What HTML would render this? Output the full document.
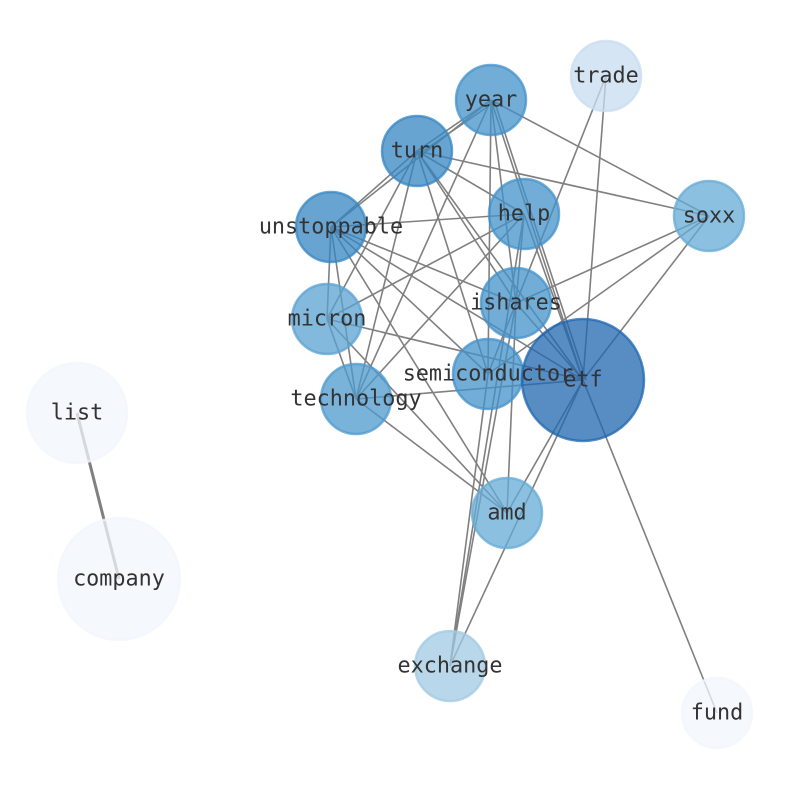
<!DOCTYPE html>
<html><head><meta charset="utf-8"><style>html,body{margin:0;padding:0;background:#fff}svg{display:block}</style></head>
<body>
<svg width="794" height="790" viewBox="0 0 794 790" xmlns="http://www.w3.org/2000/svg">
<g stroke="#808080" stroke-width="1.6" fill="none">
<line x1="77" y1="413" x2="119" y2="579" stroke-width="3"/>
<line x1="491" y1="100" x2="417" y2="151"/><line x1="491" y1="100" x2="417" y2="151" transform="translate(2,3)"/>
<line x1="491" y1="100" x2="331" y2="227"/>
<line x1="491" y1="100" x2="356" y2="399"/>
<line x1="491" y1="100" x2="488" y2="374"/>
<line x1="491" y1="100" x2="516" y2="303"/>
<line x1="491" y1="100" x2="583" y2="380"/>
<line x1="491" y1="100" x2="583" y2="380" transform="translate(3,0)"/>
<line x1="491" y1="100" x2="709" y2="216"/>
<line x1="417" y1="151" x2="331" y2="227"/>
<line x1="417" y1="151" x2="327" y2="319"/>
<line x1="417" y1="151" x2="356" y2="399"/>
<line x1="417" y1="151" x2="488" y2="374"/>
<line x1="417" y1="151" x2="516" y2="303"/>
<line x1="417" y1="151" x2="583" y2="380"/>
<line x1="417" y1="151" x2="524" y2="214"/>
<line x1="417" y1="151" x2="709" y2="216"/>
<line x1="331" y1="227" x2="524" y2="214"/>
<line x1="331" y1="227" x2="327" y2="319"/>
<line x1="331" y1="227" x2="356" y2="399"/>
<line x1="331" y1="227" x2="516" y2="303"/>
<line x1="331" y1="227" x2="583" y2="380"/>
<line x1="331" y1="227" x2="488" y2="374"/>
<line x1="331" y1="227" x2="507" y2="513"/>
<line x1="524" y1="214" x2="327" y2="319"/>
<line x1="524" y1="214" x2="356" y2="399"/>
<line x1="524" y1="214" x2="516" y2="303"/>
<line x1="524" y1="214" x2="450" y2="666"/>
<line x1="524" y1="214" x2="583" y2="380"/>
<line x1="606" y1="76" x2="516" y2="303"/>
<line x1="606" y1="76" x2="583" y2="380"/>
<line x1="709" y1="216" x2="516" y2="303"/>
<line x1="709" y1="216" x2="488" y2="374"/>
<line x1="709" y1="216" x2="583" y2="380"/>
<line x1="327" y1="319" x2="356" y2="399"/>
<line x1="327" y1="319" x2="583" y2="380"/>
<line x1="327" y1="319" x2="507" y2="513"/>
<line x1="356" y1="399" x2="583" y2="380"/>
<line x1="356" y1="399" x2="507" y2="513"/>
<line x1="516" y1="303" x2="488" y2="374"/>
<line x1="516" y1="303" x2="507" y2="513"/>
<line x1="516" y1="303" x2="450" y2="666"/>
<line x1="516" y1="303" x2="583" y2="380"/>
<line x1="488" y1="374" x2="450" y2="666"/>
<line x1="583" y1="380" x2="507" y2="513"/>
<line x1="583" y1="380" x2="450" y2="666"/>
<line x1="583" y1="380" x2="717" y2="713"/>
</g>
<g stroke-width="2.5" fill-opacity="0.75" stroke-opacity="0.75">
<circle cx="77" cy="413" r="50" fill="#f1f6fc" stroke="#f1f6fc"/>
<circle cx="119" cy="579" r="61" fill="#f1f6fc" stroke="#f1f6fc"/>
<circle cx="717" cy="713" r="35" fill="#f1f6fc" stroke="#f1f6fc"/>
<circle cx="606" cy="76" r="35" fill="#c8dcf0" stroke="#c8dcf0"/>
<circle cx="450" cy="666" r="35" fill="#a1c9e3" stroke="#a1c9e3"/>
<circle cx="709" cy="216" r="35" fill="#66abd6" stroke="#66abd6"/>
<circle cx="507" cy="513" r="35" fill="#66abd6" stroke="#66abd6"/>
<circle cx="327" cy="319" r="35" fill="#5aa2d2" stroke="#5aa2d2"/>
<circle cx="356" cy="399" r="35" fill="#4e9acd" stroke="#4e9acd"/>
<circle cx="491" cy="100" r="35" fill="#4391ca" stroke="#4391ca"/>
<circle cx="524" cy="214" r="35" fill="#4391ca" stroke="#4391ca"/>
<circle cx="516" cy="303" r="35" fill="#4391ca" stroke="#4391ca"/>
<circle cx="488" cy="374" r="35" fill="#4391ca" stroke="#4391ca"/>
<circle cx="417" cy="151" r="35" fill="#3585c2" stroke="#3585c2"/>
<circle cx="331" cy="227" r="35" fill="#3585c2" stroke="#3585c2"/>
<circle cx="583" cy="380" r="61" fill="#2067b0" stroke="#2067b0"/>
</g>
<g font-family="'DejaVu Sans Mono','Liberation Mono',monospace" font-size="21.8" fill="#333" text-anchor="middle" dominant-baseline="central">
<text x="77" y="413">list</text><text x="119" y="579">company</text><text x="717" y="713">fund</text>
<text x="606" y="76">trade</text><text x="450" y="666">exchange</text><text x="709" y="216">soxx</text>
<text x="507" y="513">amd</text><text x="327" y="319">micron</text><text x="356" y="399">technology</text>
<text x="491" y="100">year</text><text x="524" y="214">help</text><text x="516" y="303">ishares</text>
<text x="488" y="374">semiconductor</text><text x="417" y="151">turn</text><text x="331" y="227">unstoppable</text>
<text x="583" y="380">etf</text>
</g>
</svg>
</body></html>
